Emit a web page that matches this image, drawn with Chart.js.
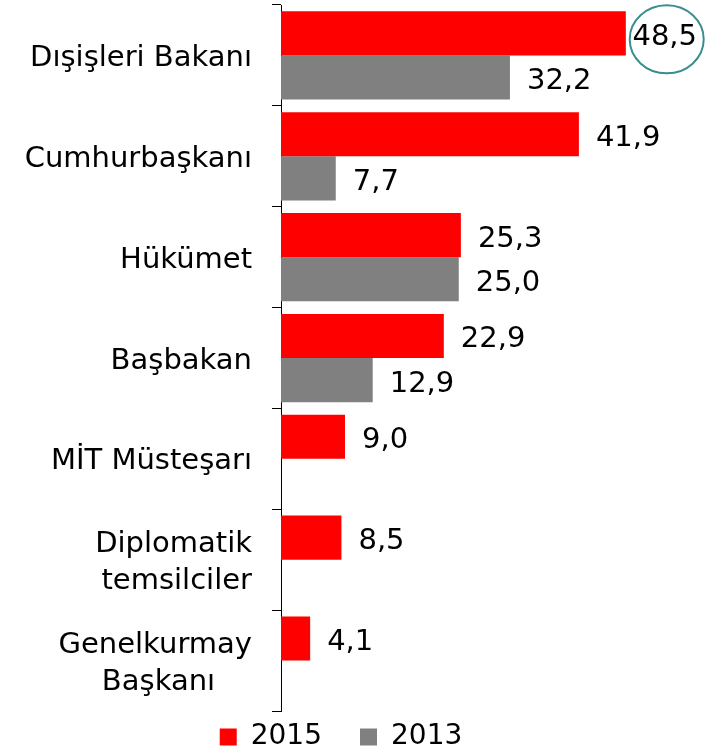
<!DOCTYPE html>
<html>
<head>
<meta charset="utf-8">
<script src="https://cdn.jsdelivr.net/npm/chart.js@4.4.1/dist/chart.umd.min.js"></script>
<style>
  html, body { margin: 0; padding: 0; background: #fff; }
  #wrap { width: 705px; height: 751px; }
</style>
</head>
<body>
<div id="wrap"><canvas id="bar-chart"></canvas></div>
<script>
const barChart = document.getElementById("bar-chart");

const categories = [
  'Dışişleri Bakanı',
  'Cumhurbaşkanı',
  'Hükümet',
  'Başbakan',
  'MİT Müsteşarı',
  ['Diplomatik', 'temsilciler'],
  ['Genelkurmay', 'Başkanı    ']
];
const values2015 = [48.5, 41.9, 25.3, 22.9, 9.0, 8.5, 4.1];
const values2013 = [32.2, 7.7, 25.0, 12.9, null, null, null];
const seriesNames = ['2015', '2013'];

const FONT = '"DejaVu Sans", Verdana, sans-serif';

// numbers to the right of each bar, plus the ring round the top one
const valueLabels = {
  id: 'valueLabels',
  afterDatasetsDraw(chart) {
    const ctx = chart.ctx;
    ctx.save();
    ctx.font = '29px ' + FONT;
    ctx.fillStyle = '#000';
    ctx.textBaseline = 'middle';
    ctx.textAlign = 'left';
    chart.data.datasets.forEach((ds, di) => {
      chart.getDatasetMeta(di).data.forEach((bar, i) => {
        const v = ds.data[i];
        if (v == null) return;
        const txt = v.toFixed(1).replace('.', ',');
        const w = ctx.measureText(txt).width;
        const x = Math.min(bar.x + 17, chart.width - 8 - w);
        ctx.fillText(txt, x, bar.y + 4);
        if (di === 0 && i === 0) {
          ctx.beginPath();
          ctx.ellipse(x + w / 2 + 2, bar.y + 6, 37, 34, 0, 0, Math.PI * 2);
          ctx.strokeStyle = '#3b8d8d';
          ctx.lineWidth = 2;
          ctx.stroke();
        }
      });
    });
    ctx.restore();
  }
};

// keep the wide item gap of the legend but not its tall box
const legendSqueeze = {
  id: 'legendSqueeze',
  beforeUpdate(chart) {
    const legend = chart.legend;
    if (!legend || legend._squeezed) return;
    const fit = legend.fit;
    legend.fit = function () {
      fit.call(this);
      this.height = 40;
    };
    legend._squeezed = true;
  },
  afterLayout(chart) {
    if (chart.legend) chart.legend.top -= 26;
  }
};

const dataBars = {
  type: 'bar',
  data: {
    labels: categories,
    datasets: [
      {
        label: seriesNames[0],
        data: values2015,
        backgroundColor: '#ff0000',
        borderWidth: 0,
        barPercentage: 1,
        categoryPercentage: 0.875
      },
      {
        label: seriesNames[1],
        data: values2013,
        backgroundColor: '#808080',
        borderWidth: 0,
        barPercentage: 1,
        categoryPercentage: 0.875
      }
    ]
  },
  options: {
    indexAxis: 'y',
    responsive: true,
    maintainAspectRatio: false,
    animation: false,
    layout: {
      padding: { top: 5, right: 23, bottom: 0, left: 0 }
    },
    scales: {
      x: {
        display: false,
        min: 0,
        max: 56.4
      },
      y: {
        grid: {
          drawOnChartArea: false,
          drawTicks: true,
          tickLength: 9,
          color: '#000',
          offset: true
        },
        border: { color: '#000', width: 1 },
        ticks: {
          color: '#000',
          autoSkip: false,
          padding: 20,
          labelOffset: 3,
          font: { family: FONT, size: 29, lineHeight: 1.27 }
        },
        afterFit(scale) {
          scale.width = 281;
          scale.paddingTop = 0;
          scale.paddingBottom = 0;
        }
      }
    },
    plugins: {
      legend: {
        position: 'bottom',
        labels: {
          boxWidth: 17,
          boxHeight: 17,
          padding: 38,
          color: '#000',
          font: { family: FONT, size: 28 }
        }
      },
      tooltip: { enabled: false }
    }
  },
  plugins: [valueLabels, legendSqueeze]
};

const bars = new Chart(barChart, dataBars);
</script>
</body>
</html>
